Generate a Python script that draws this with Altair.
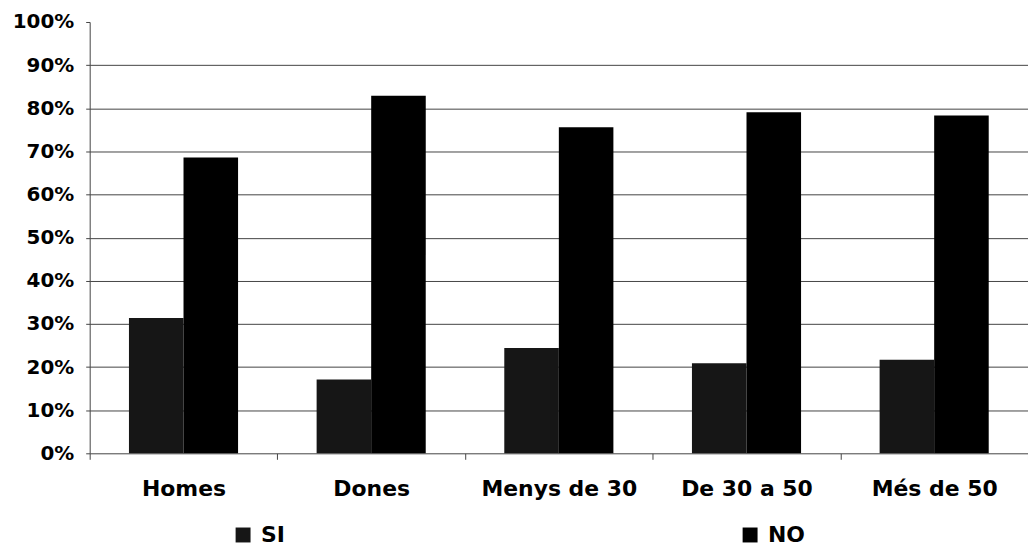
import altair as alt
import pandas as pd

categories = ["Homes", "Dones", "Menys de 30", "De 30 a 50", "Més de 50"]
series = ["SI", "NO"]
si_values = [31.4, 17.1, 24.4, 20.9, 21.7]
no_values = [68.6, 82.9, 75.6, 79.1, 78.3]
colors = ["#161616", "#000000"]
y_ticks = [0, 0.1, 0.2, 0.3, 0.4, 0.5, 0.6, 0.7, 0.8, 0.9, 1.0]

rows = []
for c, s, n in zip(categories, si_values, no_values):
    rows.append({"cat": c, "serie": "SI", "value": s / 100})
    rows.append({"cat": c, "serie": "NO", "value": n / 100})
df = pd.DataFrame(rows)

font = "DejaVu Sans"

chart = alt.Chart(df).mark_bar(strokeWidth=0).encode(
    x=alt.X("cat:N", sort=categories, title=None,
            scale=alt.Scale(paddingInner=0, paddingOuter=0),
            axis=alt.Axis(labelAngle=0, labelFont=font, labelFontWeight="bold",
                          labelFontSize=22, labelColor="black", tickBand="extent",
                          tickSize=6, tickColor="#444", domainColor="#444",
                          labelPadding=19, grid=False)),
    xOffset=alt.XOffset("serie:N", sort=series,
                        scale=alt.Scale(paddingOuter=0.72, paddingInner=0)),
    y=alt.Y("value:Q", title=None,
            scale=alt.Scale(domain=[0, 1], nice=False),
            axis=alt.Axis(values=y_ticks, format=".0%", labelFont=font,
                          labelFontWeight="bold", labelFontSize=20, labelColor="black",
                          tickSize=4, tickColor="#444", domainColor="#444",
                          labelPadding=12, gridColor="#444",
                          gridOpacity={"condition": {"test": "datum.value >= 1 || datum.value <= 0", "value": 0}, "value": 1})),
    color=alt.Color("serie:N", sort=series,
                    scale=alt.Scale(domain=series, range=colors),
                    legend=alt.Legend(title=None, orient="none", legendX=143, legendY=504,
                                      direction="horizontal", columns=2, columnPadding=455,
                                      symbolType="square", symbolSize=225, symbolStrokeWidth=0,
                                      labelFont=font, labelFontWeight="bold", labelFontSize=22,
                                      labelColor="black", labelOffset=7, padding=0)),
).properties(
    width=942, height=433,
    autosize=alt.AutoSizeParams(type="none"),
    padding={"left": 82, "top": 13, "right": 0, "bottom": 92},
).configure_view(stroke=None)

chart.save("out.html", embed_options={"renderer": "svg", "actions": False})
